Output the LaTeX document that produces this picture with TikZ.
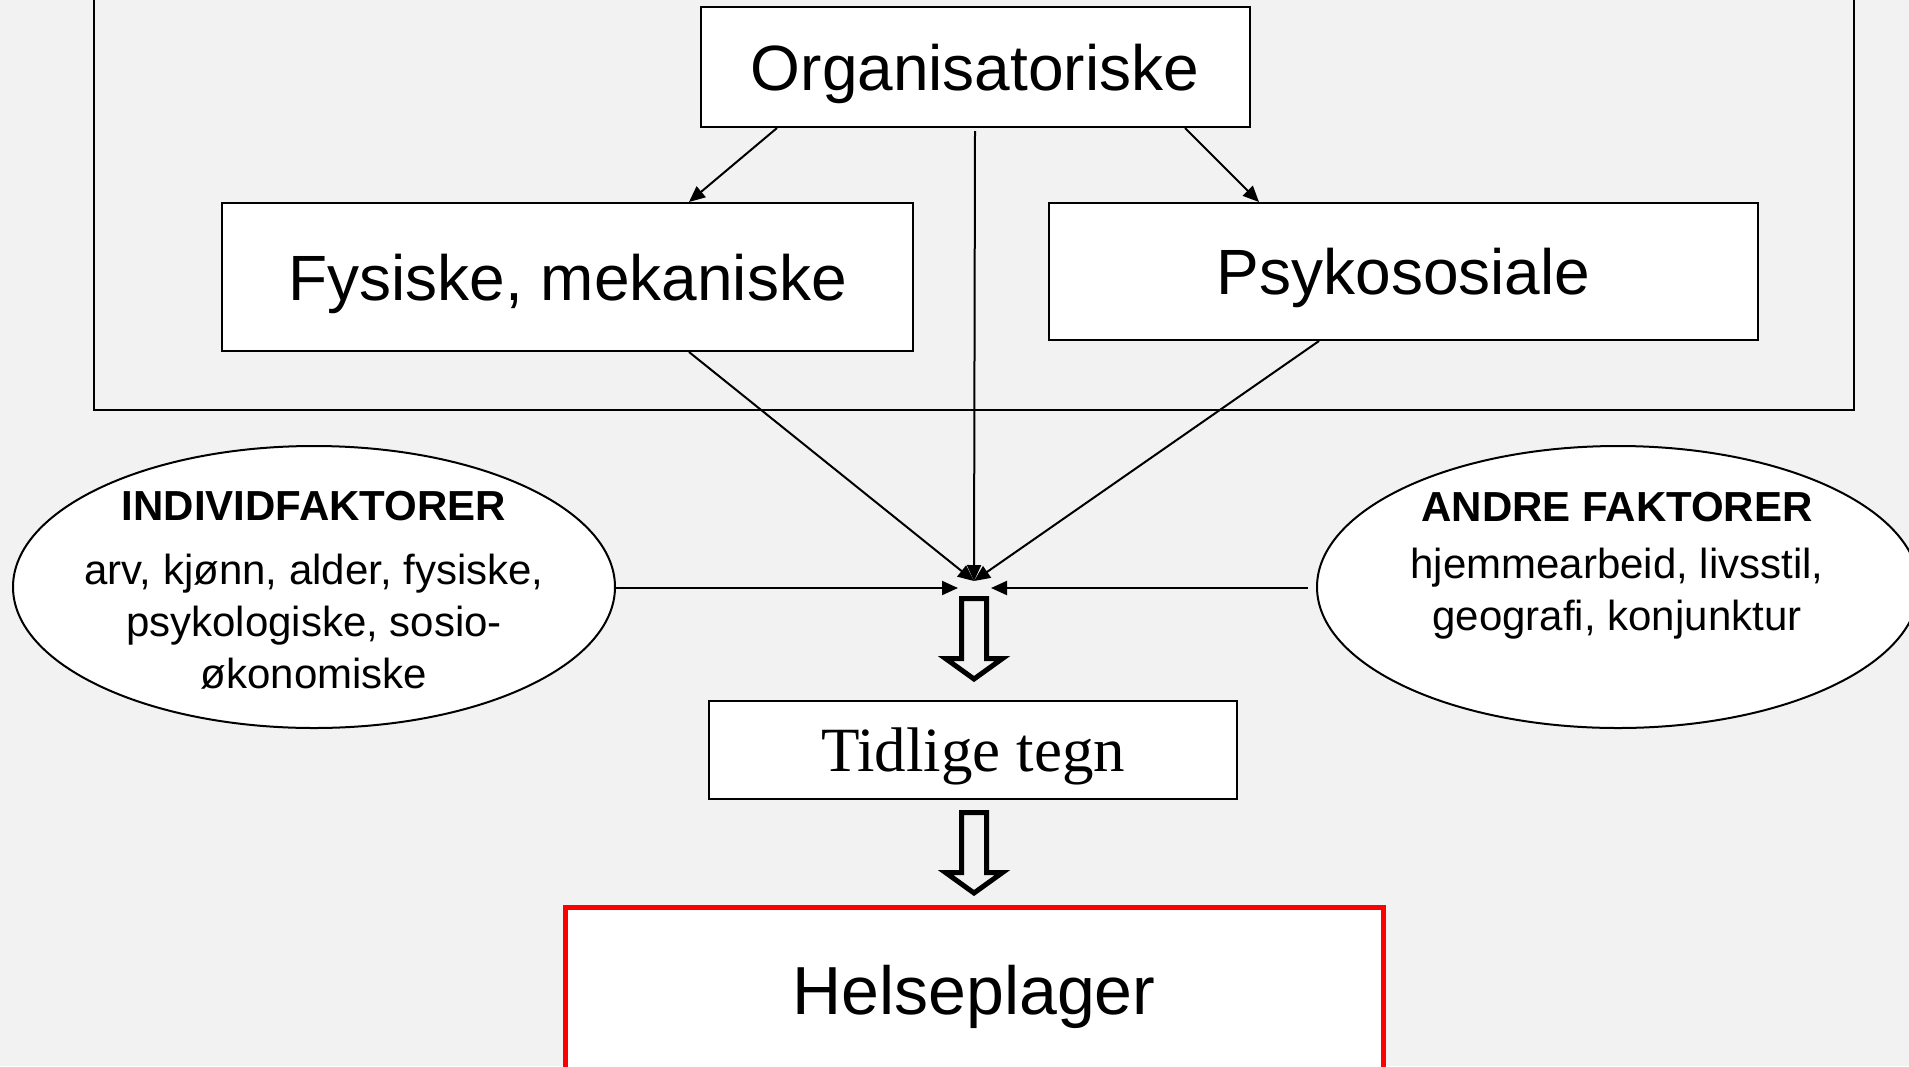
\documentclass[tikz,border=0pt]{standalone}
\usepackage{fontspec}
\setmainfont{Liberation Sans}
\newfontfamily\timesfont{Liberation Serif}
\usetikzlibrary{arrows.meta,shapes.geometric,calc}
\definecolor{bakgrunn}{HTML}{F2F2F2}
\definecolor{rodkant}{HTML}{FF0000}
\begin{document}
\begin{tikzpicture}[x=1pt,y=-1pt,
    boks/.style={draw,rectangle,fill=white,line width=2pt,inner sep=0pt,text depth=0pt,font=\fontsize{64}{70}\selectfont},
    oval/.style={draw,ellipse,fill=white,line width=2pt,minimum width=602pt,minimum height=282pt,inner sep=0pt},
    ovaltekst/.style={align=center,inner sep=0pt,font=\fontsize{42}{52}\selectfont},
    pil/.style={-{Triangle[length=16pt,width=14pt]},line width=2pt},
    hulpil/.style={line width=5pt}]
    \useasboundingbox (0,0) rectangle (1909,1066);
    \clip (0,0) rectangle (1909,1066);
    \fill[bakgrunn] (0,0) rectangle (1909,1066);

    % ramme rundt arbeidsfaktorene
    \draw[line width=2pt] (94,-20) rectangle (1854,410);

    \node[boks,minimum width=549pt,minimum height=120pt] (org) at (975,67) {Organisatoriske};
    \node[boks,minimum width=691pt,minimum height=148pt] (fys) at (567.5,277) {Fysiske, mekaniske};
    \node[boks,minimum width=709pt,minimum height=137pt] (psy) at (1403.5,271.5) {Psykososiale};

    \node[oval] (indiv) at (314,587) {};
    \node[ovaltekst] (indivtekst) at (314,590) {\textbf{INDIVIDFAKTORER}\\[12pt]arv, kjønn, alder, fysiske,\\psykologiske, sosio-\\økonomiske};
    \node[oval] (andre) at (1618,587) {};
    \node[ovaltekst] (andretekst) at (1617,566) {\textbf{ANDRE FAKTORER}\\[5pt]hjemmearbeid, livsstil,\\geografi, konjunktur};

    \node[boks,minimum width=528pt,minimum height=98pt,font=\timesfont\fontsize{63}{70}\selectfont] (tegn) at (973,750) {Tidlige tegn};
    \node[boks,draw=rodkant,line width=5pt,minimum width=818pt,minimum height=200pt] (helse) at (974,1007) {};
    \node[font=\fontsize{68}{74}\selectfont,inner sep=0pt] (helsetekst) at (974,997) {Helseplager};

    \coordinate (knute) at (974,581);
    \coordinate (venstre) at (958,588);
    \coordinate (hoyre) at (991,588);

    \draw[pil] ([xshift=-198pt]org.south) -- ([xshift=121.5pt]fys.north);
    \draw[pil] ([xshift=210pt]org.south) -- ([xshift=-144.5pt]psy.north);
    \draw[pil] ([yshift=-3pt]org.south) -- (knute);
    \draw[pil] ([xshift=121.5pt]fys.south) -- (knute);
    \draw[pil] ([xshift=-84.5pt]psy.south) -- (knute);
    \draw[pil] (indiv.east |- venstre) -- (venstre);
    \draw[pil] ([xshift=-8pt]andre.west |- hoyre) -- (hoyre);

    % hule piler ned mot tegn og plager
    \foreach \topp in {598.5,812.5}
        \draw[hulpil] (961.5,\topp) -- ++(0,60) -- ++(-16,0) -- ++(28.5,20.5) -- ++(28.5,-20.5) -- ++(-16,0) -- ++(0,-60) -- cycle;
\end{tikzpicture}
\end{document}
